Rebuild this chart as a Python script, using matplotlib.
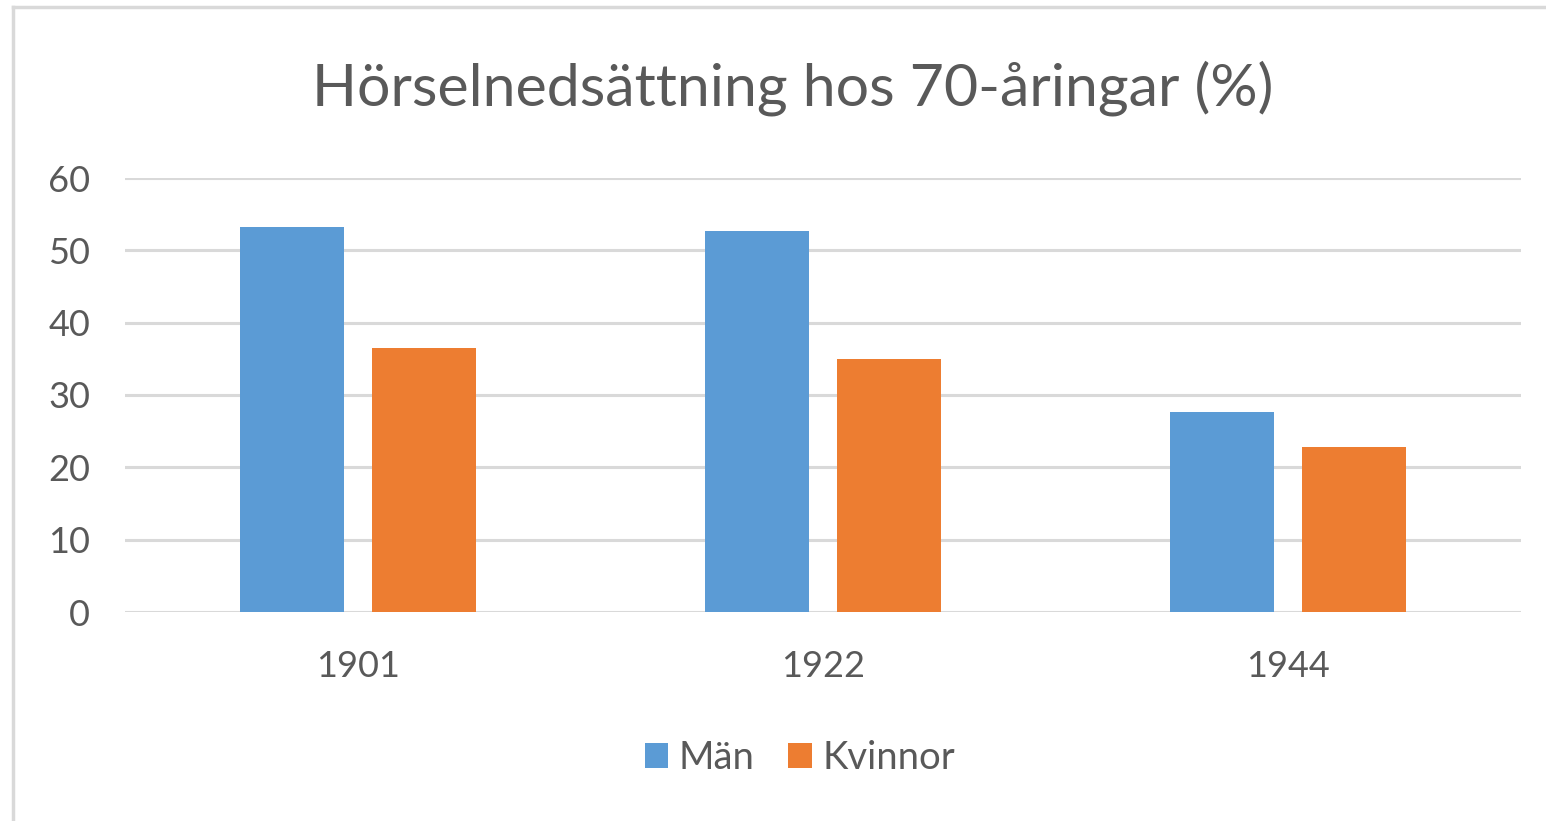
import matplotlib
matplotlib.use("Agg")
import matplotlib.pyplot as plt
import numpy as np
from matplotlib.lines import Line2D
from matplotlib.patches import Patch

# ─── Data ─────────────────────────────────────────────────────────────────────
years = ["1901", "1922", "1944"]
man = [53.2, 52.7, 27.7]
kvinnor = [36.5, 35.0, 22.8]
series_names = ["Män", "Kvinnor"]
yticks = [0, 10, 20, 30, 40, 50, 60]

BLUE = "#5B9BD5"
ORANGE = "#ED7D31"
GRID = "#D9D9D9"
TEXT = "#595959"

plt.rcParams["font.family"] = ["Lato", "DejaVu Sans"]

fig = plt.figure(figsize=(15.46, 8.21), dpi=100)
fig.patch.set_facecolor("white")
ax = fig.add_axes([125 / 1546, 1 - 612 / 821, (1521 - 125) / 1546, (612 - 178) / 821])

x = np.arange(len(years))
w = 0.2235
gap = 0.06
ax.bar(x - (w + gap) / 2, man, width=w, color=BLUE, zorder=3)
ax.bar(x + (w + gap) / 2, kvinnor, width=w, color=ORANGE, zorder=3)

ax.set_xlim(-0.5, len(years) - 0.5)
ax.set_ylim(0, 60)
ax.set_yticks(yticks)
ax.set_xticks(x)
ax.set_xticklabels(years)
ax.tick_params(axis="y", length=0, pad=25, labelsize=26, labelcolor=TEXT)
ax.tick_params(axis="x", length=0, pad=27, labelsize=26, labelcolor=TEXT)
ax.grid(axis="y", color=GRID, linewidth=2.2, zorder=0)
for s in ax.spines.values():
    s.set_visible(False)
ax.set_axisbelow(True)

fig.text(793 / 1546, 1 - 88 / 821, "Hörselnedsättning hos 70-åringar (%)",
         ha="center", va="center", fontsize=42.5, color=TEXT)

handles = [Patch(facecolor=BLUE), Patch(facecolor=ORANGE)]
fig.legend(handles, series_names, loc="center", bbox_to_anchor=(800 / 1546, 1 - 758 / 821),
           ncol=2, frameon=False, fontsize=27.5, handlelength=0.62, handleheight=0.62,
           handletextpad=0.28, columnspacing=0.88, labelcolor=TEXT)

# chart frame (only top and left edge visible in the screenshot)
fig.add_artist(Line2D([13 / 1546, 1], [1 - 7 / 821, 1 - 7 / 821],
                      transform=fig.transFigure, color=GRID, linewidth=2.5))
fig.add_artist(Line2D([13 / 1546, 13 / 1546], [0, 1 - 7 / 821],
                      transform=fig.transFigure, color=GRID, linewidth=2.5))

fig.savefig("out.png", dpi=100, facecolor="white")
